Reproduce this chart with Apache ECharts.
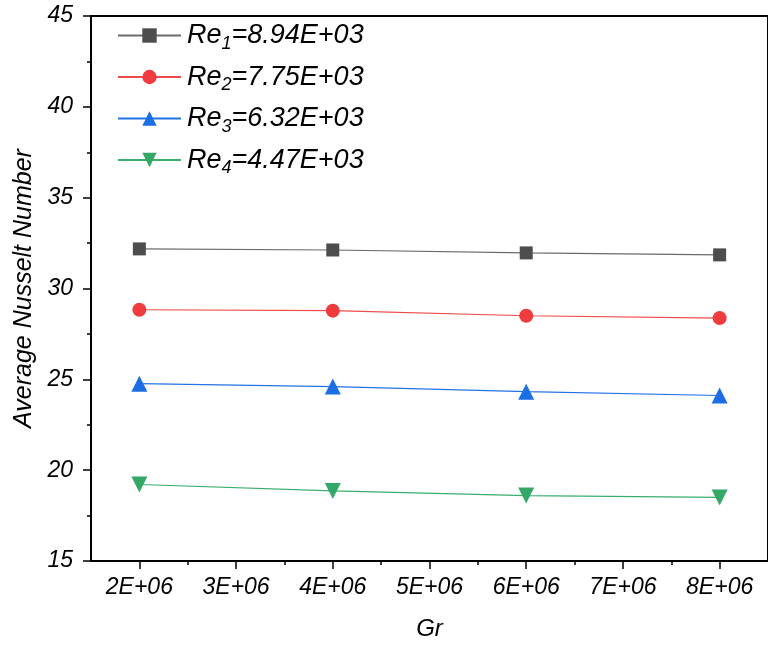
<!DOCTYPE html>
<html>
<head>
<meta charset="utf-8">
<title>Average Nusselt Number vs Gr</title>
<script src="https://cdn.jsdelivr.net/npm/echarts@6.0.0/dist/echarts.min.js"></script>
<style>
  html, body { margin: 0; padding: 0; background: #fff; }
  #chart { width: 768px; height: 646px; }
</style>
</head>
<body>
<div id="chart"></div>
<script>
// data
const grValues = [2e6, 4e6, 6e6, 8e6];
const re1Nu = [32.18, 32.12, 31.96, 31.85];
const re2Nu = [28.83, 28.78, 28.5, 28.37];
const re3Nu = [24.76, 24.6, 24.32, 24.11];
const re4Nu = [19.21, 18.86, 18.6, 18.5];
const reLabels = ["8.94E+03", "7.75E+03", "6.32E+03", "4.47E+03"];
const xTicks = [2e6, 3e6, 4e6, 5e6, 6e6, 7e6, 8e6];
const xMinorTicks = [2.5e6, 3.5e6, 4.5e6, 5.5e6, 6.5e6, 7.5e6];

const font = "'Liberation Sans', Arial, sans-serif";
const lineColors = ["#6a6a6a", "#f04a4a", "#2272e6", "#3aad6e"];
const markColors = ["#4d4d4d", "#f03c3f", "#1b6ee3", "#33a867"];
const symbols = ["rect", "circle", "triangle", "triangle"];
const symbolSizes = [13, 14, 16, 16];
const rotates = [0, 0, 0, 180];
const allNu = [re1Nu, re2Nu, re3Nu, re4Nu];

var myChart = echarts.init(document.getElementById("chart"));

var series = allNu.map((arr, i) => {
  return {
    name: "Re" + (i + 1) + "=" + reLabels[i],
    type: "line",
    xAxisIndex: 0,
    data: grValues.map((g, j) => [g, arr[j]]),
    symbol: symbols[i],
    symbolSize: symbolSizes[i],
    symbolRotate: rotates[i],
    showAllSymbol: true,
    lineStyle: { color: lineColors[i], width: 1.2 },
    itemStyle: { color: markColors[i] },
  };
});

var option = {
  animation: false,
  backgroundColor: "#fff",
  grid: {
    left: 91,
    top: 16,
    right: -5,
    bottom: 85,
    show: true,
    borderColor: "#000",
    borderWidth: 2,
  },
  legend: {
    orient: "vertical",
    left: 112,
    top: 17,
    itemWidth: 63,
    itemHeight: 18,
    itemGap: 11,
    formatter: function (name) {
      const m = name.match(/^Re(\d)=(.*)$/);
      return "{a|Re}{s|" + m[1] + "}{b|=" + m[2] + "}";
    },
    textStyle: {
      rich: {
        a: { fontSize: 27, fontStyle: "italic", fontFamily: font, color: "#000", lineHeight: 30, padding: [0, 0, 0, 1] },
        s: { fontSize: 18, fontStyle: "italic", fontFamily: font, color: "#000", padding: [16, 0, 0, 0] },
        b: { fontSize: 27, fontStyle: "italic", fontFamily: font, color: "#000", lineHeight: 30 },
      },
    },
  },
  xAxis: [
    {
      type: "value",
      min: 1.5e6,
      max: 8.5e6,
      name: "Gr",
      nameLocation: "middle",
      nameGap: 56,
      nameTextStyle: { fontSize: 24, fontStyle: "italic", fontFamily: font, color: "#000" },
      splitLine: { show: false },
      axisLine: { lineStyle: { color: "#000", width: 2 } },
      axisTick: { customValues: xTicks, length: 8, lineStyle: { color: "#000", width: 1.5 } },
      axisLabel: {
        customValues: xTicks,
        margin: 15,
        fontSize: 23,
        fontStyle: "italic",
        fontFamily: font,
        color: "#000",
        formatter: (v) => (v / 1e6).toFixed(0) + "E+06",
      },
    },
    {
      type: "value",
      min: 1.5e6,
      max: 8.5e6,
      position: "bottom",
      splitLine: { show: false },
      axisLine: { show: false },
      axisLabel: { show: false },
      axisTick: { customValues: xMinorTicks, length: 4, lineStyle: { color: "#000", width: 1.5 } },
    },
  ],
  yAxis: {
    type: "value",
    min: 15,
    max: 45,
    interval: 5,
    name: "Average Nusselt Number",
    nameLocation: "middle",
    nameRotate: 90,
    nameGap: 53,
    nameTextStyle: { fontSize: 25, fontStyle: "italic", fontFamily: font, color: "#000" },
    splitLine: { show: false },
    axisLine: { lineStyle: { color: "#000", width: 2 } },
    axisTick: { length: 8, lineStyle: { color: "#000", width: 1.5 } },
    minorTick: { show: true, splitNumber: 2, length: 4, lineStyle: { color: "#000", width: 1.5 } },
    axisLabel: {
      margin: 18,
      fontSize: 23,
      fontStyle: "italic",
      fontFamily: font,
      color: "#000",
    },
  },
  series: series,
};
myChart.setOption(option);
</script>
</body>
</html>
